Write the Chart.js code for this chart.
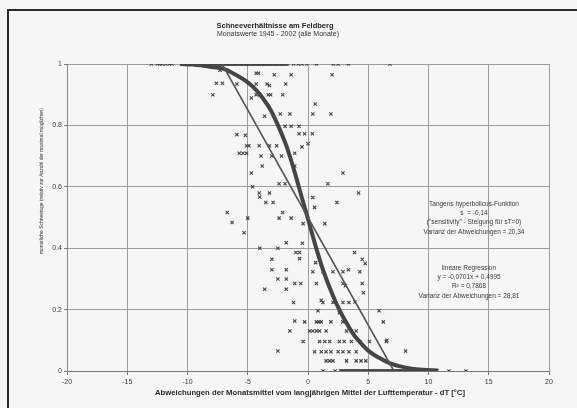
<!DOCTYPE html>
<html><head><meta charset="utf-8">
<script src="https://cdn.jsdelivr.net/npm/chart.js@4.4.1/dist/chart.umd.min.js"></script>
<style>html,body{margin:0;padding:0;background:#f6f6f6;overflow:hidden}
#wrap{position:relative;width:577px;height:408px}</style></head>
<body><div id="wrap"><canvas id="c" width="577" height="408"></canvas></div>
<script>
const chartTitle = "Schneeverhältnisse am Feldberg";
const chartSubtitle = "Monatswerte 1945 - 2002 (alle Monate)";
const xAxisTitle = "Abweichungen der Monatsmittel vom langjährigen Mittel der Lufttemperatur - dT [°C]";
const yAxisTitle = "monatliche Schneetage (relativ zur Anzahl der maximal möglichen)";
const tanhNote = ["Tangens hyperbolicus-Funktion", "s  = -0,14", "(\"sensitivity\" - Steigung für sT=0)", "Varianz der Abweichungen = 20,34"];
const regrNote = ["lineare Regression", "y = -0,0701x + 0,4995", "R² = 0,7868", "Varianz der Abweichungen = 28,81"];
const xTickValues = [-20, -15, -10, -5, 0, 5, 10, 15, 20];
const yTickValues = [0, 0.2, 0.4, 0.6, 0.8, 1];

// observations with relative snow days = 1
const obsFullX = [-13.0,-12.5,-12.3,-12.1,-11.8,-11.5,-11.3,-10.5,-10.3,-10.2,-10.1,-10.0,-9.9,-9.8,-9.7,-9.6,-9.5,-9.4,-9.3,-9.2,-9.1,-9.0,-8.9,-8.8,-8.7,-8.6,-8.5,-8.4,-8.3,-8.2,-8.1,-8.0,-7.9,-7.8,-7.7,-7.6,-7.5,-7.4,-7.3,-7.2,-7.1,-7.0,-6.9,-6.8,-6.7,-6.6,-6.5,-6.4,-6.3,-6.2,-6.1,-6.0,-5.9,-5.8,-5.7,-5.6,-5.5,-5.4,-5.3,-5.2,-5.1,-5.0,-4.9,-4.8,-4.7,-4.6,-4.5,-4.4,-4.3,-4.2,-4.1,-4.0,-3.9,-3.8,-3.7,-3.6,-3.5,-3.4,-3.3,-3.2,-3.1,-3.0,-2.9,-2.8,-2.7,-2.6,-2.5,-2.4,-2.3,-2.2,-2.1,-2.0,-1.9,-1.8,-1.7,-1.2,-0.8,-0.5,-0.1,0.7,2.1,2.5,3.35,6.8];
// observations with relative snow days = 0
const obsZeroX = [1.25,2.25,2.7,2.8,2.9,3.0,3.1,3.2,3.3,3.4,3.5,3.6,3.7,3.8,3.9,4.0,4.1,4.2,4.3,4.4,4.5,4.6,4.7,4.8,4.9,5.0,5.1,5.2,5.3,5.4,5.5,5.6,5.7,5.8,5.9,6.0,6.1,6.2,6.3,6.4,6.5,6.6,6.7,6.8,6.9,7.0,7.1,7.2,7.3,7.4,7.5,7.6,7.7,7.8,7.9,8.0,8.1,8.2,8.3,8.4,8.5,8.6,8.7,8.8,8.9,9.0,9.1,9.2,9.3,9.4,9.5,9.6,9.7,9.8,9.9,10.0,10.1,10.2,10.3,10.4,10.5,10.6,10.7,11.7,13.1];
// observations in between
const obsMidX = [-7.3,-4.3,-4.1,-2.8,-1.4,2.0,-7.6,-7.1,-5.9,-4.3,-3.4,-3.2,-1.85,-7.9,-4.7,-4.3,-4.0,-3.3,-3.1,-2.1,0.6,-3.6,-2.3,-1.5,0.4,1.9,-1.9,-1.4,-0.74,-5.9,-5.2,-0.74,-0.28,0.36,-5.1,-4.9,-4.05,-3.2,-2.6,-0.5,0.0,-5.7,-5.4,-5.1,-3.9,-3.0,-2.2,-1.1,-3.8,-1.1,-4.7,2.9,-2.4,-1.9,1.65,-4.6,-4.05,-3.2,-4.0,0.4,4.2,-3.5,-2.9,2.4,0.55,-2.1,-6.7,-2.4,-1.4,-5.0,1.4,-6.3,-0.4,-5.3,-1.8,-0.47,-4.0,-2.5,-1.0,-0.7,-0.7,-3.0,0.63,3.86,4.5,-3.0,-1.8,0.4,1.24,2.07,2.9,4.3,-2.5,-1.8,-3.6,-1.8,-1.1,-0.6,0.7,2.9,3.1,4.5,-1.2,1.1,1.24,2.07,2.9,3.4,0.83,2.6,5.9,-1.1,-0.28,0.7,0.9,1.1,1.9,2.9,6.25,-1.5,0.14,0.4,0.7,0.96,1.5,3.2,3.6,4.0,-0.4,0.96,1.4,1.8,2.6,3.0,3.6,4.3,5.1,6.5,-2.5,0.55,1.1,1.5,1.9,2.5,2.9,3.4,4.0,8.1,1.5,1.8,2.07,3.2,4.0,4.4,4.8,4.75,3.35,4.6,3.9,6.55];
const obsMidY = [0.98,0.97,0.97,0.965,0.965,0.965,0.937,0.937,0.935,0.935,0.935,0.93,0.935,0.9,0.889,0.9,0.9,0.9,0.9,0.9,0.87,0.83,0.837,0.837,0.837,0.837,0.797,0.797,0.797,0.77,0.768,0.773,0.773,0.773,0.734,0.734,0.734,0.734,0.734,0.73,0.74,0.709,0.709,0.709,0.70,0.70,0.70,0.709,0.668,0.668,0.645,0.645,0.61,0.61,0.61,0.6,0.58,0.58,0.567,0.565,0.58,0.549,0.549,0.549,0.533,0.516,0.516,0.498,0.498,0.498,0.48,0.484,0.48,0.45,0.418,0.416,0.4,0.4,0.386,0.386,0.366,0.364,0.353,0.386,0.364,0.33,0.33,0.323,0.323,0.323,0.323,0.323,0.3,0.3,0.266,0.266,0.285,0.285,0.285,0.285,0.278,0.285,0.223,0.23,0.223,0.223,0.223,0.223,0.196,0.19,0.196,0.163,0.16,0.16,0.16,0.16,0.16,0.16,0.16,0.13,0.13,0.13,0.13,0.13,0.13,0.13,0.13,0.13,0.096,0.096,0.096,0.096,0.096,0.096,0.096,0.096,0.096,0.096,0.065,0.063,0.063,0.063,0.063,0.063,0.063,0.063,0.063,0.065,0.033,0.033,0.033,0.033,0.033,0.033,0.033,0.35,0.33,0.255,0.225,0.1];

// tanh fit curve
const tanhX = [-10.6,-9.5,-8.9,-8.0,-7.0,-6.0,-5.0,-4.3,-3.7,-3.1,-2.6,-1.8,-1.1,-0.55,0,0.55,1.24,2.07,2.6,3.17,3.8,4.4,5.1,5.9,7.0,8.1,9.5,10.8];
const tanhY = [1.0,0.998,0.996,0.99,0.984,0.965,0.94,0.915,0.886,0.85,0.81,0.734,0.647,0.57,0.495,0.418,0.33,0.245,0.2,0.158,0.118,0.09,0.063,0.043,0.022,0.011,0.004,0.002];
// linear regression line (clipped to 0..1)
const regrX = [-7.13, 7.13];
const regrY = [1.0, 0.0];

const pts = (xs, ys) => xs.map((x, i) => ({x, y: Array.isArray(ys) ? ys[i] : ys}));
const observations = [].concat(pts(obsFullX, 1), pts(obsZeroX, 0), pts(obsMidX, obsMidY));

function fitText(ctx, text, x, y, font, targetW) {
  ctx.font = font;
  const w = ctx.measureText(text).width;
  ctx.save();
  ctx.translate(x, y);
  if (targetW) ctx.scale(targetW / w, 1);
  ctx.textAlign = 'center';
  ctx.textBaseline = 'middle';
  ctx.fillText(text, 0, 0);
  ctx.restore();
}

const decor = {
  id: 'decor',
  beforeDraw(chart) {
    const ctx = chart.ctx;
    ctx.save();
    ctx.fillStyle = '#f6f6f6';
    ctx.fillRect(0, 0, chart.width, chart.height);
    ctx.strokeStyle = '#2b2b2b';
    ctx.lineWidth = 2;
    ctx.beginPath();
    ctx.moveTo(8, chart.height + 2);
    ctx.lineTo(8, 10);
    ctx.lineTo(chart.width + 2, 10);
    ctx.stroke();
    ctx.restore();
  },
  afterDraw(chart) {
    const ctx = chart.ctx;
    ctx.save();
    ctx.fillStyle = '#222';
    fitText(ctx, chartTitle, 275, 26, 'bold 7.5px "Liberation Sans", Arial, sans-serif', 117);
    ctx.fillStyle = '#333';
    fitText(ctx, chartSubtitle, 278, 34, '6.5px "Liberation Sans", Arial, sans-serif', 122);
    ctx.fillStyle = '#2a2a2a';
    fitText(ctx, xAxisTitle, 310, 393, 'bold 7px "Liberation Sans", Arial, sans-serif', 310);
    ctx.save();
    ctx.translate(41, 181);
    ctx.rotate(-Math.PI / 2);
    ctx.fillStyle = '#333';
    fitText(ctx, yAxisTitle, 0, 0, '5.8px "Liberation Sans", Arial, sans-serif', 146);
    ctx.restore();
    ctx.fillStyle = '#3a3a3a';
    const f = '6.5px "Liberation Sans", Arial, sans-serif';
    const y1 = [204, 213, 222, 232];
    tanhNote.forEach((t, i) => fitText(ctx, t, 474, y1[i], f));
    const y2 = [268, 277, 286, 296];
    regrNote.forEach((t, i) => fitText(ctx, t, 469, y2[i], f));
    ctx.restore();
  }
};

new Chart(document.getElementById('c'), {
  type: 'scatter',
  data: {
    datasets: [
      { label: 'Regression', data: pts(regrX, regrY), showLine: true, pointRadius: 0,
        borderColor: '#555', borderWidth: 1.6, order: 1 },
      { label: 'tanh', data: pts(tanhX, tanhY), showLine: true, pointRadius: 0,
        borderColor: '#454545', borderWidth: 4, cubicInterpolationMode: 'monotone', order: 2 },
      { label: 'Beobachtungen', data: observations, pointStyle: 'crossRot', pointRadius: 2.3,
        borderColor: '#454545', backgroundColor: '#454545', borderWidth: 1.1, order: 3 }
    ]
  },
  options: {
    responsive: false,
    animation: false,
    events: [],
    layout: { padding: { left: 0, top: 64, right: 28, bottom: 0 } },
    plugins: { legend: { display: false }, title: { display: false }, tooltip: { enabled: false } },
    scales: {
      x: {
        type: 'linear', min: -20, max: 20,
        afterBuildTicks: s => { s.ticks = xTickValues.map(v => ({value: v})); },
        afterFit: s => { s.height = 37; },
        grid: { color: '#9c9c9c', lineWidth: 1, tickLength: 4, tickColor: '#777' },
        border: { color: '#777', width: 1 },
        ticks: { color: '#3a3a3a', font: { size: 7, family: '"Liberation Sans", Arial, sans-serif' }, padding: 3, maxRotation: 0 }
      },
      y: {
        type: 'linear', min: 0, max: 1,
        afterBuildTicks: s => { s.ticks = yTickValues.map(v => ({value: v})); },
        afterFit: s => { s.width = 67; },
        grid: { color: '#9c9c9c', lineWidth: 1, tickLength: 3, tickColor: '#777' },
        border: { color: '#888', width: 1 },
        ticks: { color: '#3a3a3a', font: { size: 7, family: '"Liberation Sans", Arial, sans-serif' }, padding: 2,
          callback: v => String(Math.round(v * 10) / 10) }
      }
    }
  },
  plugins: [decor]
});
</script></body></html>
